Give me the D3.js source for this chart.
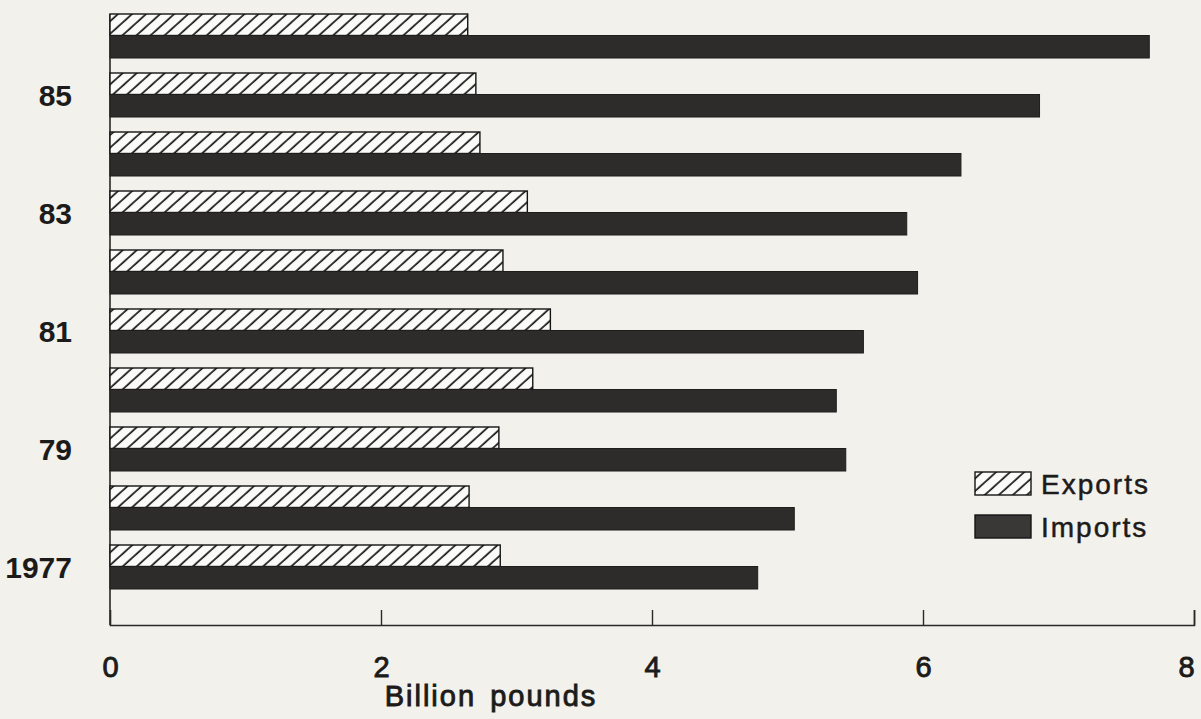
<!DOCTYPE html>
<html>
<head>
<meta charset="utf-8">
<script src="https://cdn.jsdelivr.net/npm/d3@7"></script>
<style>
  html, body { margin: 0; padding: 0; background: #f2f1ec; }
  svg { display: block; }
  text { font-family: "Liberation Sans", Arial, Helvetica, sans-serif; fill: #1c1b1a; }
</style>
</head>
<body>
<svg id="chart" width="1201" height="719"></svg>
<script>
// ---- data (billion pounds) ----
const years = [1977, 1978, 1979, 1980, 1981, 1982, 1983, 1984, 1985, 1986];
const exportsVals = [2.88, 2.65, 2.87, 3.12, 3.25, 2.90, 3.08, 2.73, 2.70, 2.64];
const importsVals = [4.78, 5.05, 5.43, 5.36, 5.56, 5.96, 5.88, 6.28, 6.86, 7.67];
const seriesNames = ["Exports", "Imports"];
const yTickYears = [1977, 1979, 1981, 1983, 1985];
const yTickLabels = ["1977", "79", "81", "83", "85"];
const xTicks = [0, 2, 4, 6, 8];
const xTitle = "Billion pounds";

const svg = d3.select("#chart");
svg.append("rect").attr("width", 1201).attr("height", 719).attr("fill", "#f2f1ec");

// hatch pattern
const defs = svg.append("defs");
const pat = defs.append("pattern")
  .attr("id", "hatch")
  .attr("patternUnits", "userSpaceOnUse")
  .attr("width", 10).attr("height", 9.4)
  .attr("patternTransform", "rotate(-42)");
pat.append("rect").attr("width", 10).attr("height", 9.4).attr("fill", "#fbfbf8");
pat.append("rect").attr("x", 0).attr("y", 4).attr("width", 10).attr("height", 1.7).attr("fill", "#151515");

const x = d3.scaleLinear().domain([0, 8]).range([110, 1194]);
const y = d3.scaleBand()
  .domain(years.slice().reverse())
  .range([14, 588])
  .paddingInner(16 / 59)
  .paddingOuter(0);
const sub = d3.scaleBand().domain(seriesNames).range([0, y.bandwidth()]);

const rows = years.map((yr, i) => ({ year: yr, Exports: exportsVals[i], Imports: importsVals[i] }));

// left axis line
svg.append("line")
  .attr("x1", x(0)).attr("x2", x(0))
  .attr("y1", y.range()[0]).attr("y2", 625)
  .attr("stroke", "#2a2928").attr("stroke-width", 1.6);

// bars
const g = svg.append("g");
rows.forEach(r => {
  g.append("rect")
    .attr("x", x(0))
    .attr("y", y(r.year) + sub("Exports"))
    .attr("width", x(r.Exports) - x(0))
    .attr("height", sub.bandwidth())
    .attr("fill", "url(#hatch)")
    .attr("stroke", "#151515").attr("stroke-width", 1.4);
  g.append("rect")
    .attr("x", x(0))
    .attr("y", y(r.year) + sub("Imports"))
    .attr("width", x(r.Imports) - x(0))
    .attr("height", sub.bandwidth() + 1)
    .attr("fill", "#2e2c2a")
    .attr("stroke", "#1e1d1c").attr("stroke-width", 1);
});

// bottom axis
const xAxis = d3.axisBottom(x).tickValues(xTicks).tickSize(-15).tickPadding(0).tickFormat(d3.format("d"));
const ax = svg.append("g").attr("transform", "translate(0,625)").call(xAxis);
ax.select(".domain").attr("stroke", "#2a2928").attr("stroke-width", 1.6);
ax.selectAll(".tick line").attr("stroke", "#2a2928").attr("stroke-width", 1.4);
ax.selectAll(".tick text")
  .attr("y", 52).attr("dy", null)
  .attr("dx", d => d === 8 ? -8 : 0)
  .style("font-size", "29px").style("font-weight", "normal")
  .style("font-family", '"Liberation Sans", Arial, sans-serif')
  .attr("fill", "#1c1b1a")
  .attr("stroke", "#1c1b1a").attr("stroke-width", 0.9);
ax.selectAll(".tick").filter(d => d === 0).select("line").remove();

svg.append("text")
  .attr("x", 491).attr("y", 706)
  .attr("text-anchor", "middle")
  .style("font-size", "29px").style("font-weight", "normal")
  .style("letter-spacing", "2px")
  .style("word-spacing", "4px")
  .attr("stroke", "#1c1b1a").attr("stroke-width", 0.9)
  .text(xTitle);

// y labels
yTickYears.forEach((yr, i) => {
  svg.append("text")
    .attr("x", 72)
    .attr("y", y(yr) + y.bandwidth() / 2 + 11.5)
    .attr("text-anchor", "end")
    .style("font-size", "30px").style("font-weight", "bold")
    .text(yTickLabels[i]);
});

// legend
const legend = svg.append("g").attr("transform", "translate(975,472)");
seriesNames.forEach((name, i) => {
  const lg = legend.append("g").attr("transform", `translate(0,${i * 43})`);
  lg.append("rect")
    .attr("width", 56).attr("height", 23)
    .attr("fill", name === "Exports" ? "url(#hatch)" : "#3a3836")
    .attr("stroke", "#151515").attr("stroke-width", 1.4);
  lg.append("text")
    .attr("x", 66).attr("y", 22)
    .style("font-size", "28px")
    .style("letter-spacing", "2px")
    .attr("stroke", "#1c1b1a").attr("stroke-width", 0.5)
    .text(name);
});
</script>
</body>
</html>
